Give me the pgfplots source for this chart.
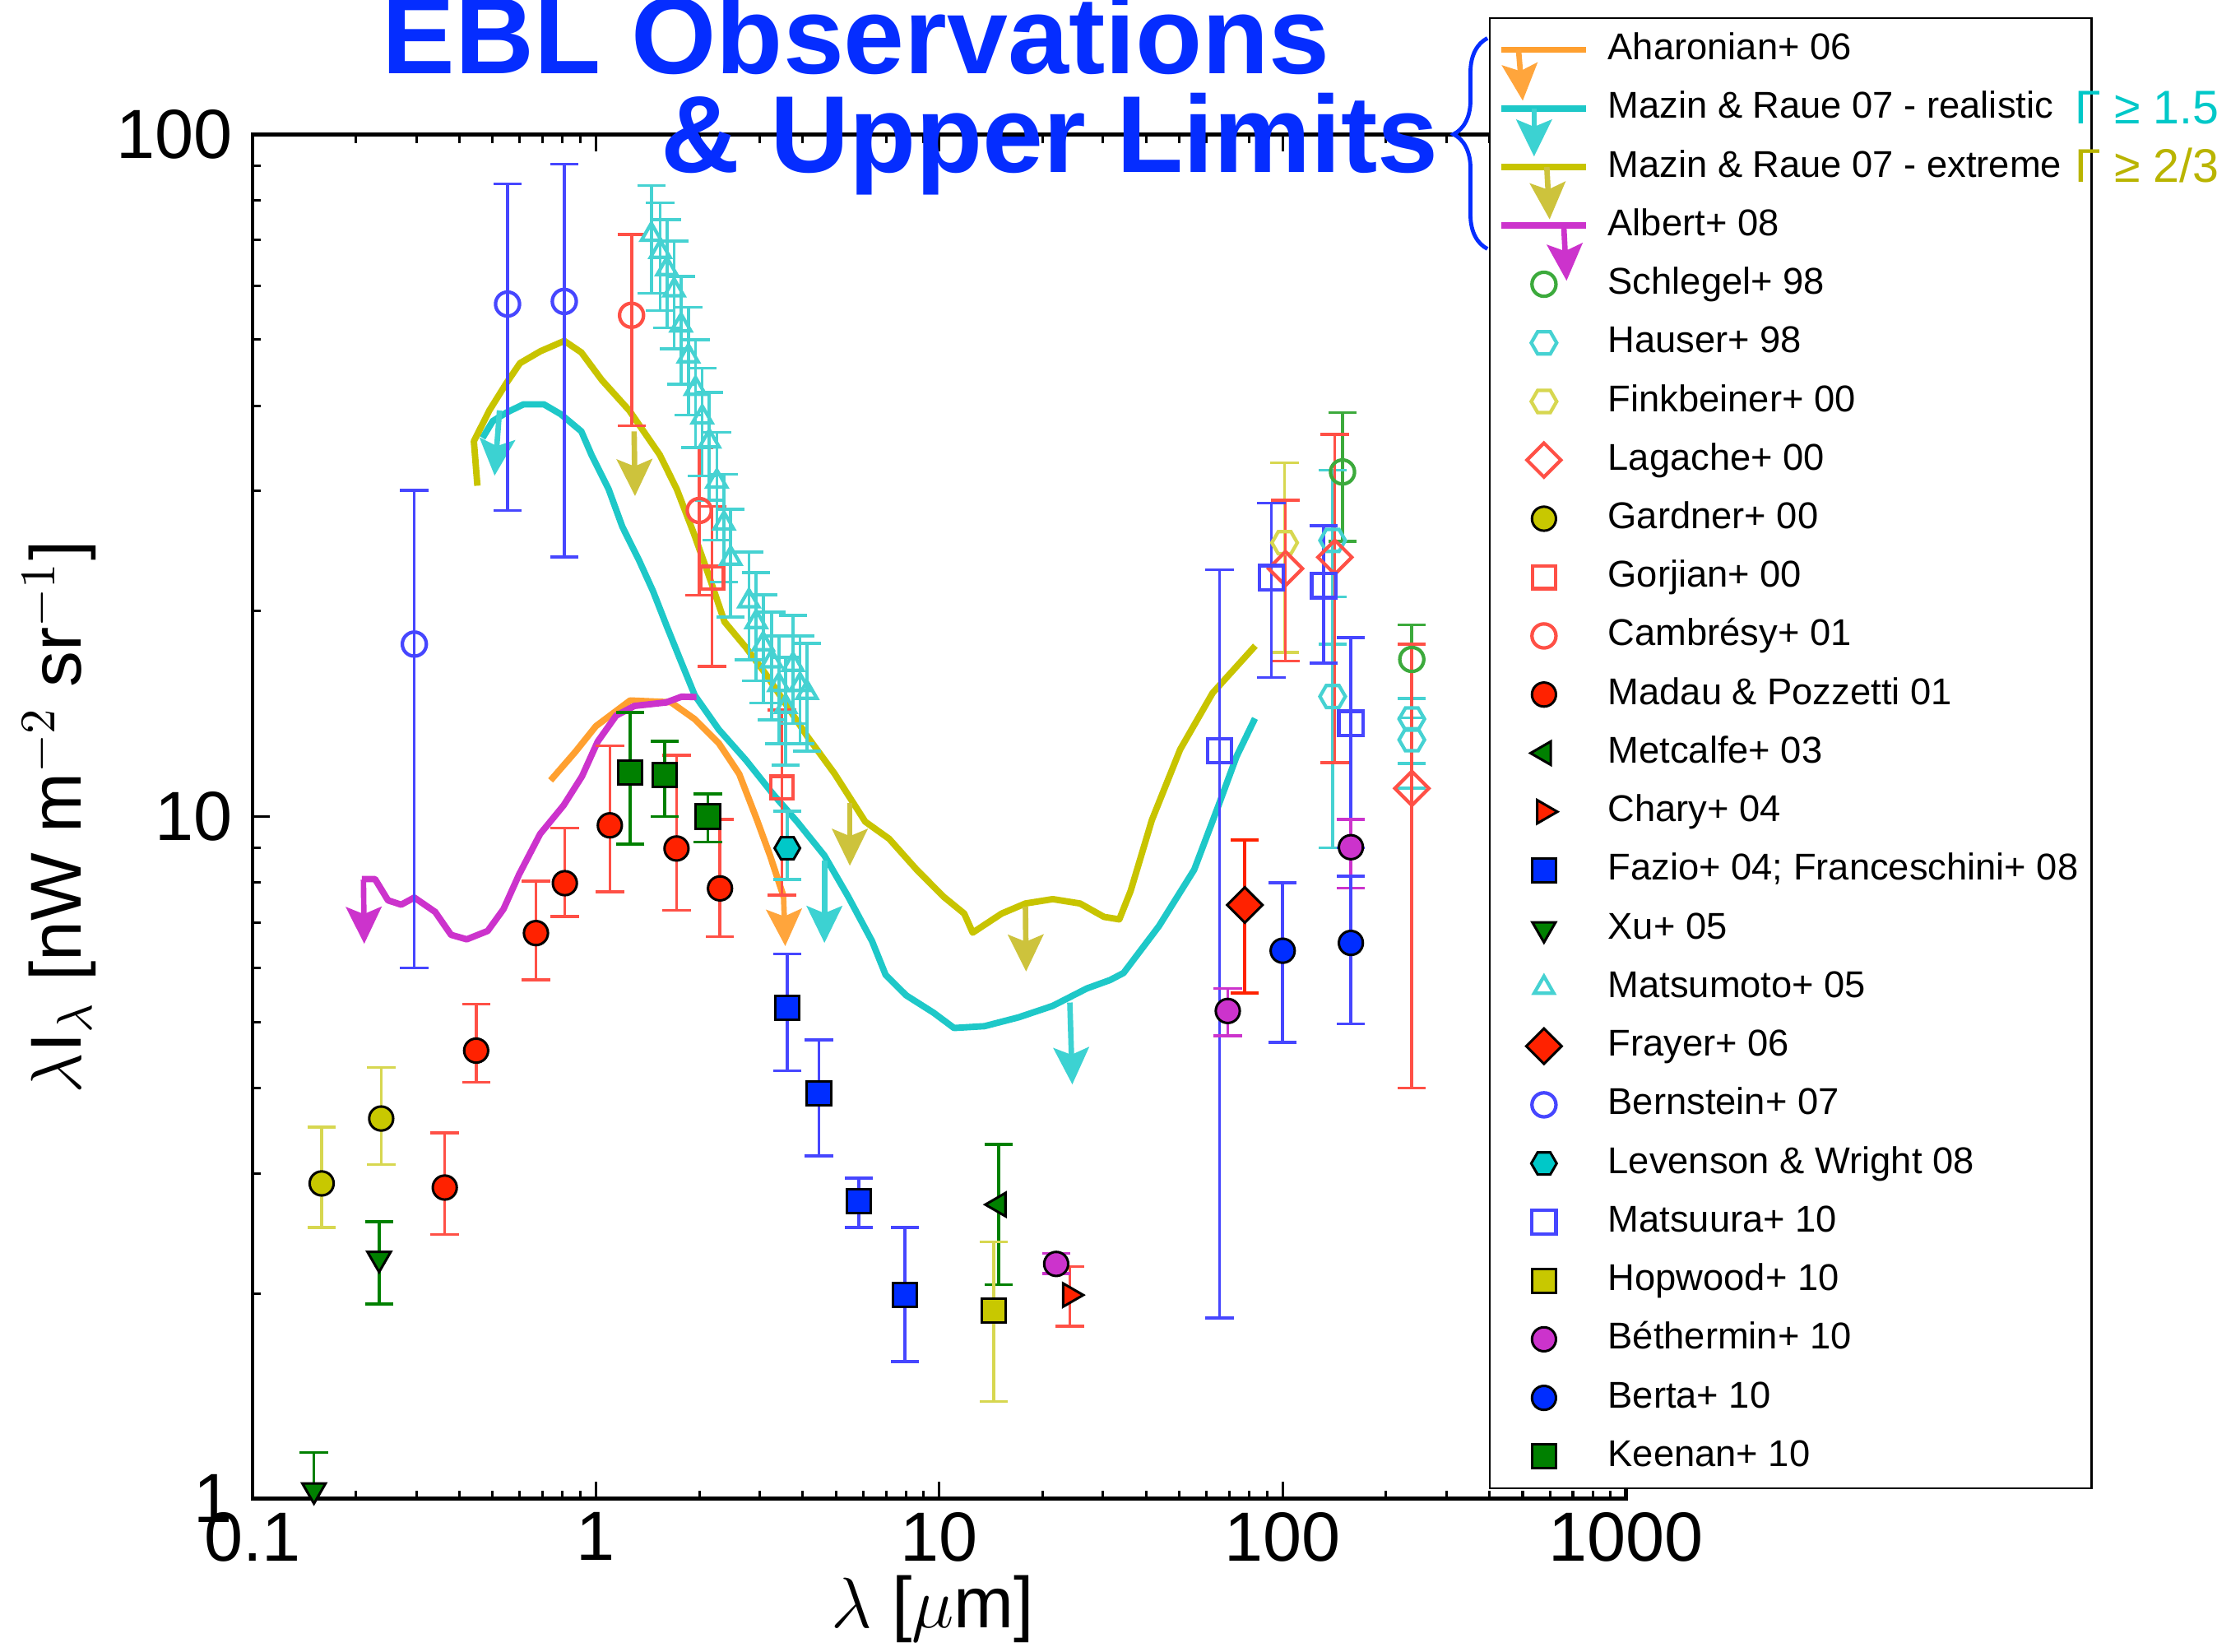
\documentclass[border=0pt]{standalone}
\usepackage{fontspec}
\setmainfont{Liberation Sans}
\usepackage{pgfplots}
\pgfplotsset{compat=1.18}
\usetikzlibrary{arrows.meta,decorations.pathreplacing,plotmarks}

\definecolor{cOrange}{RGB}{255,160,48}
\definecolor{cOrangeA}{RGB}{255,165,60}
\definecolor{cCyan}{RGB}{30,200,200}
\definecolor{cCyanA}{RGB}{60,210,210}
\definecolor{cYel}{RGB}{200,196,0}
\definecolor{cYelA}{RGB}{205,195,60}
\definecolor{cMag}{RGB}{204,51,204}
\definecolor{cRed}{RGB}{255,34,0}
\definecolor{cRedO}{RGB}{255,80,70}
\definecolor{cBlue}{RGB}{0,45,255}
\definecolor{cBlueO}{RGB}{70,70,255}
\definecolor{cGreen}{RGB}{0,128,0}
\definecolor{cGreenO}{RGB}{60,170,60}
\definecolor{cYelM}{RGB}{200,200,0}
\definecolor{cYelO}{RGB}{215,215,80}
\definecolor{cCyanM}{RGB}{0,200,200}
\definecolor{cCyanO}{RGB}{70,210,210}
\definecolor{cTitle}{RGB}{5,45,255}
\definecolor{cGamY}{RGB}{185,180,0}

\pgfdeclareplotmark{hexagon}{%
  \pgfpathmoveto{\pgfqpointpolar{0}{\pgfplotmarksize}}%
  \pgfpathlineto{\pgfqpointpolar{60}{\pgfplotmarksize}}%
  \pgfpathlineto{\pgfqpointpolar{120}{\pgfplotmarksize}}%
  \pgfpathlineto{\pgfqpointpolar{180}{\pgfplotmarksize}}%
  \pgfpathlineto{\pgfqpointpolar{240}{\pgfplotmarksize}}%
  \pgfpathlineto{\pgfqpointpolar{300}{\pgfplotmarksize}}%
  \pgfpathclose\pgfusepathqstroke}
\pgfdeclareplotmark{hexagon*}{%
  \pgfpathmoveto{\pgfqpointpolar{0}{\pgfplotmarksize}}%
  \pgfpathlineto{\pgfqpointpolar{60}{\pgfplotmarksize}}%
  \pgfpathlineto{\pgfqpointpolar{120}{\pgfplotmarksize}}%
  \pgfpathlineto{\pgfqpointpolar{180}{\pgfplotmarksize}}%
  \pgfpathlineto{\pgfqpointpolar{240}{\pgfplotmarksize}}%
  \pgfpathlineto{\pgfqpointpolar{300}{\pgfplotmarksize}}%
  \pgfpathclose\pgfusepathqfillstroke}
\pgfdeclareplotmark{dia}{%
  \pgfpathmoveto{\pgfqpoint{0pt}{\pgfplotmarksize}}%
  \pgfpathlineto{\pgfqpoint{\pgfplotmarksize}{0pt}}%
  \pgfpathlineto{\pgfqpoint{0pt}{-\pgfplotmarksize}}%
  \pgfpathlineto{\pgfqpoint{-\pgfplotmarksize}{0pt}}%
  \pgfpathclose\pgfusepathqstroke}
\pgfdeclareplotmark{dia*}{%
  \pgfpathmoveto{\pgfqpoint{0pt}{\pgfplotmarksize}}%
  \pgfpathlineto{\pgfqpoint{\pgfplotmarksize}{0pt}}%
  \pgfpathlineto{\pgfqpoint{0pt}{-\pgfplotmarksize}}%
  \pgfpathlineto{\pgfqpoint{-\pgfplotmarksize}{0pt}}%
  \pgfpathclose\pgfusepathqfillstroke}

\tikzset{arr/.style={line width=1.1pt, -{Stealth[width=2.5mm,length=2.6mm,inset=0.5mm]}}}

\pgfplotsset{
  ebar/.style={error bars/y dir=both, error bars/y explicit,
    error bars/error bar style={#1, line width=0.6pt},
    error bars/error mark options={rotate=90, #1, mark size=1mm, line width=0.6pt}},
  ebarrel/.style={error bars/y dir=both, error bars/y explicit relative,
    error bars/error bar style={#1, line width=0.6pt},
    error bars/error mark options={rotate=90, #1, mark size=1mm, line width=0.6pt}},
}

\begin{document}
\begin{tikzpicture}
\useasboundingbox (-17.86mm,-10.8mm) rectangle (138.94mm,106.0mm);
\begin{axis}[
  at={(0,0)}, anchor=south west,
  scale only axis, width=97.14mm, height=96.5mm,
  xmode=log, ymode=log,
  xmin=0.1, xmax=1000, ymin=1, ymax=100,
  log ticks with fixed point,
  /pgf/number format/1000 sep={},
  /pgf/number format/assume math mode=true,
  tick label style={font=\fontsize{14}{14}\selectfont},
  xticklabel style={yshift=0.3mm},
  yticklabel style={xshift=-0.2mm},
  major tick length=1.2mm, minor tick length=0.6mm,
  axis line style={line width=0.8pt},
  tick style={line width=0.5pt, black},
  xlabel={$\lambda$ [$\mu$m]},
  ylabel={$\lambda$I$_\lambda$ [nW m$^{-2}$ sr$^{-1}$]},
  label style={font=\fontsize{14.5}{14.5}\selectfont},
  xlabel style={at={(axis description cs:0.495,-0.0808)}, anchor=center},
  ylabel style={at={(axis description cs:-0.1405,0.4995)}, anchor=center},
  legend cell align=left,
  legend style={
    at={(0.9001,1.0860)}, anchor=north west,
    draw=black, fill=white,
    font=\fontsize{7.5}{9}\selectfont,
    inner xsep=0.6mm, inner ysep=0.95mm,
    row sep=1.545mm, column sep=1.3mm,
    nodes={inner sep=0pt, text height=2.0mm, text depth=0.6mm},
  },
]

% ---- upper-limit curves
\addplot[cOrange, line width=1.3pt, no marks, line join=round,
  legend image code/.code={
    \draw[cOrange, line width=1.3pt] (0cm,0cm) -- (0.6cm,0cm);
    \draw[overlay, cOrangeA, arr] (0.12cm,0cm) -- (0.15cm,-0.36cm);
  }] coordinates {
(0.738,11.30) (0.872,12.45) (1.0,13.57) (1.258,14.80) (1.654,14.71) (1.942,13.89)
(2.28,12.81) (2.614,11.55) (2.932,9.95) (3.214,8.77) (3.443,7.90) (3.523,7.63)};
\addlegendentry{\makebox[33.6mm][l]{Aharonian+ 06}}

\addplot[cCyan, line width=1.3pt, no marks, line join=round,
  legend image code/.code={
    \draw[cCyan, line width=1.3pt] (0cm,0cm) -- (0.6cm,0cm);
    \draw[overlay, cCyanA, arr] (0.23cm,0cm) -- (0.23cm,-0.34cm);
  }] coordinates {
(0.4677,35.9) (0.5008,38.0) (0.549,39.1) (0.6151,40.2) (0.7059,40.2) (0.7903,38.9)
(0.907,36.7) (0.971,33.9) (1.089,30.2) (1.194,26.6) (1.338,23.7) (1.467,21.4)
(1.606,19.05) (1.761,16.98) (1.942,15.05) (2.279,13.42) (2.735,12.10) (3.285,10.78)
(3.855,9.83) (4.628,8.77) (5.433,7.63) (6.37,6.57) (6.982,5.86) (8.012,5.47)
(9.618,5.16) (11.04,4.90) (13.54,4.93) (17.03,5.08) (21.4,5.28) (26.9,5.60)
(31.41,5.76) (34.41,5.90) (43.61,6.91) (55.25,8.36) (64.92,10.36) (73.41,12.25) (83.06,13.93)};
\addlegendentry{Mazin \& Raue 07 - realistic}

\addplot[cYel, line width=1.3pt, no marks, line join=round,
  legend image code/.code={
    \draw[cYel, line width=1.3pt] (0cm,0cm) -- (0.6cm,0cm);
    \draw[overlay, cYelA, arr] (0.32cm,0cm) -- (0.34cm,-0.37cm);
  }] coordinates {
(0.4518,30.55) (0.4412,35.5) (0.4896,39.4) (0.549,43.2) (0.6012,46.2) (0.6898,48.1)
(0.8092,49.8) (0.907,47.9) (1.04,43.65) (1.25,39.4) (1.535,33.9) (1.72,30.2)
(1.929,26.0) (2.163,22.1) (2.369,19.3) (2.735,17.7) (3.118,16.2) (3.438,15.05)
(4.127,13.11) (4.955,11.56) (6.087,9.83) (7.143,9.28) (8.577,8.37) (10.3,7.63)
(11.82,7.21) (12.51,6.76) (15.19,7.21) (17.82,7.46) (21.4,7.57) (25.7,7.46)
(30.17,7.13) (33.44,7.07) (36.07,7.78) (41.59,9.88) (50.27,12.54) (62.52,15.18) (83.23,17.80)};
\addlegendentry{Mazin \& Raue 07 - extreme}

\addplot[cMag, line width=1.3pt, no marks, line join=round,
  legend image code/.code={
    \draw[cMag, line width=1.3pt] (0cm,0cm) -- (0.6cm,0cm);
    \draw[overlay, cMag, arr] (0.44cm,0cm) -- (0.46cm,-0.39cm);
  }] coordinates {
(0.2082,8.10) (0.2274,8.10) (0.2481,7.54) (0.2710,7.43) (0.2960,7.61) (0.3404,7.25)
(0.3787,6.71) (0.4206,6.61) (0.4841,6.80) (0.5382,7.32) (0.5977,8.23) (0.6879,9.43)
(0.8056,10.39) (0.9113,11.46) (1.012,12.88) (1.145,14.06) (1.295,14.53) (1.600,14.70)
(1.777,14.99) (1.963,14.97)};
\addlegendentry{Albert+ 08}

% ---- arrows of upper limits
\draw[cOrangeA, arr] (axis cs:3.52,7.63) -- (axis cs:3.56,6.46);
\draw[cCyanA, arr] (axis cs:0.524,39.4) -- (axis cs:0.507,31.6);
\draw[cCyanA, arr] (axis cs:4.63,8.62) -- (axis cs:4.63,6.53);
\draw[cCyanA, arr] (axis cs:24.0,5.34) -- (axis cs:24.4,4.05);
\draw[cYelA, arr] (axis cs:1.292,36.7) -- (axis cs:1.30,29.5);
\draw[cYelA, arr] (axis cs:5.49,10.47) -- (axis cs:5.49,8.47);
\draw[cYelA, arr] (axis cs:17.82,7.38) -- (axis cs:17.9,5.93);
\draw[cMag, arr] (axis cs:0.2104,8.08) -- (axis cs:0.2115,6.51);

% ---- data points
\addplot[only marks, mark=o, mark size=0.85mm, cGreenO, mark options={line width=0.7pt}, ebar=cGreenO]
  table[x=x, y=y, y error plus=ep, y error minus=em] {
x y ep em
149.4 32.0 7.1 6.7
237.7 17.0 2.1 2.1
};
\addlegendentry{Schlegel+ 98}
\addplot[only marks, mark=hexagon, mark size=0.9mm, cCyanO, mark options={line width=0.7pt}, ebar=cCyanO]
  table[x=x, y=y, y error plus=ep, y error minus=em] {
x y ep em
139.8 25.4 6.8 7.5
139.8 15.0 6.0 6.0
237.7 13.9 1.0 2.9
237.7 12.96 1.0 1.0
};
\addlegendentry{Hauser+ 98}
\addplot[only marks, mark=hexagon, mark size=0.9mm, cYelO, mark options={line width=0.7pt}, ebar=cYelO]
  table[x=x, y=y, y error plus=ep, y error minus=em] {
x y ep em
101.3 25.2 7.8 7.8
};
\addlegendentry{Finkbeiner+ 00}
\addplot[only marks, mark=dia, mark size=1.2mm, cRedO, mark options={line width=0.7pt}, ebar=cRedO]
  table[x=x, y=y, y error plus=ep, y error minus=em] {
x y ep em
101.9 23.1 6.0 6.2
141.9 24.0 12.3 12.0
237.7 11.0 6.9 7.0
};
\addlegendentry{Lagache+ 00}
\addplot[only marks, mark=*, mark size=0.85mm, cYelM, mark options={draw=black, fill=cYelM, line width=0.5pt}, ebar=cYelO]
  table[x=x, y=y, y error plus=ep, y error minus=em] {
x y ep em
0.159 2.90 0.61 0.40
0.237 3.61 0.68 0.52
};
\addlegendentry{Gardner+ 00}
\addplot[only marks, mark=square, mark size=0.8mm, cRedO, mark options={line width=0.7pt}, ebar=cRedO]
  table[x=x, y=y, y error plus=ep, y error minus=em] {
x y ep em
2.18 22.4 6.1 5.8
3.48 11.03 3.3 3.36
};
\addlegendentry{Gorjian+ 00}
\addplot[only marks, mark=o, mark size=0.85mm, cRedO, mark options={line width=0.7pt}, ebar=cRedO]
  table[x=x, y=y, y error plus=ep, y error minus=em] {
x y ep em
1.27 54.3 17.0 16.9
2.0 28.1 6.6 7.0
};
\addlegendentry{Cambrésy+ 01}
\addplot[only marks, mark=*, mark size=0.85mm, cRed, mark options={draw=black, fill=cRed, line width=0.5pt}, ebar=cRedO]
  table[x=x, y=y, y error plus=ep, y error minus=em] {
x y ep em
0.363 2.86 0.58 0.42
0.448 4.54 0.77 0.46
0.669 6.75 1.29 0.98
0.812 7.99 1.63 0.85
1.098 9.71 2.99 1.95
1.717 8.98 3.32 1.69
2.298 7.85 2.05 1.18
};
\addlegendentry{Madau \& Pozzetti 01}
\addplot[only marks, mark=triangle*, mark size=0.95mm, cGreen, mark options={rotate=90, draw=black, fill=cGreen, line width=0.5pt}, ebar=cGreen]
  table[x=x, y=y, y error plus=ep, y error minus=em] {
x y ep em
14.9 2.70 0.61 0.64
};
\addlegendentry{Metcalfe+ 03}
\addplot[only marks, mark=triangle*, mark size=0.95mm, cRed, mark options={rotate=-90, draw=black, fill=cRed, line width=0.5pt}, ebar=cRedO]
  table[x=x, y=y, y error plus=ep, y error minus=em] {
x y ep em
24.0 1.99 0.20 0.20
};
\addlegendentry{Chary+ 04}
\addplot[only marks, mark=square*, mark size=0.85mm, cBlue, mark options={draw=black, fill=cBlue, line width=0.5pt}, ebar=cBlueO]
  table[x=x, y=y, y error plus=ep, y error minus=em] {
x y ep em
3.61 5.25 1.04 1.01
4.46 3.93 0.78 0.75
5.84 2.73 0.22 0.23
7.94 1.99 0.51 0.40
};
\addlegendentry{Fazio+ 04; Franceschini+ 08}
\addplot[only marks, mark=triangle*, mark size=0.95mm, cGreen, mark options={rotate=180, draw=black, fill=cGreen, line width=0.5pt}, ebar=cGreen]
  table[x=x, y=y, y error plus=ep, y error minus=em] {
x y ep em
0.151 1.03 0.14 0.13
0.2337 2.25 0.30 0.32
};
\addlegendentry{Xu+ 05}
\addplot[only marks, mark=triangle, mark size=0.8mm, cCyanO, mark options={line width=0.7pt}, ebarrel=cCyanO]
  table[x=x, y=y, y error=e] {
x y e
1.45 71.3 0.18
1.54 67.3 0.18
1.61 63.5 0.18
1.69 59.1 0.18
1.77 52.5 0.18
1.86 47.3 0.18
1.95 42.4 0.18
2.04 38.5 0.18
2.14 35.5 0.18
2.25 31.0 0.18
2.36 26.9 0.18
2.47 23.9 0.18
2.79 20.7 0.18
2.93 19.3 0.18
3.07 17.9 0.18
3.25 16.9 0.18
3.41 15.6 0.18
3.57 14.5 0.18
3.75 16.7 0.18
3.93 15.6 0.18
4.12 15.2 0.18
};
\addlegendentry{Matsumoto+ 05}
\addplot[only marks, mark=dia*, mark size=1.25mm, cRed, mark options={draw=black, fill=cRed, line width=0.5pt}, ebar=cRed]
  table[x=x, y=y, y error plus=ep, y error minus=em] {
x y ep em
77.6 7.42 1.82 1.91
};
\addlegendentry{Frayer+ 06}
\addplot[only marks, mark=o, mark size=0.85mm, cBlueO, mark options={line width=0.7pt}, ebar=cBlueO]
  table[x=x, y=y, y error plus=ep, y error minus=em] {
x y ep em
0.296 17.9 12.2 11.9
0.553 56.4 28.2 28.3
0.809 56.9 33.5 32.9
};
\addlegendentry{Bernstein+ 07}
\addplot[only marks, mark=hexagon*, mark size=0.9mm, cCyanM, mark options={draw=black, fill=cCyanM, line width=0.5pt}, ebar=cCyanO]
  table[x=x, y=y, y error plus=ep, y error minus=em] {
x y ep em
3.61 8.99 1.2 0.9
};
\addlegendentry{Levenson \& Wright 08}
\addplot[only marks, mark=square, mark size=0.85mm, cBlueO, mark options={line width=0.7pt}, ebar=cBlueO]
  table[x=x, y=y, y error plus=ep, y error minus=em] {
x y ep em
65.5 12.5 10.5 10.66
92.8 22.4 6.4 6.4
131.6 21.8 4.9 5.0
158 13.7 4.6 4.7
};
\addlegendentry{Matsuura+ 10}
\addplot[only marks, mark=square*, mark size=0.85mm, cYelM, mark options={draw=black, fill=cYelM, line width=0.5pt}, ebar=cYelO]
  table[x=x, y=y, y error plus=ep, y error minus=em] {
x y ep em
14.4 1.89 0.49 0.50
};
\addlegendentry{Hopwood+ 10}
\addplot[only marks, mark=*, mark size=0.85mm, cMag, mark options={draw=black, fill=cMag, line width=0.5pt}, ebar=cMag]
  table[x=x, y=y, y error plus=ep, y error minus=em] {
x y ep em
21.9 2.21 0.08 0.07
69.2 5.19 0.41 0.42
158 9.02 0.88 1.16
};
\addlegendentry{Béthermin+ 10}
\addplot[only marks, mark=*, mark size=0.85mm, cBlue, mark options={draw=black, fill=cBlue, line width=0.5pt}, ebar=cBlueO]
  table[x=x, y=y, y error plus=ep, y error minus=em] {
x y ep em
100 6.36 1.64 1.69
158 6.53 1.65 1.56
};
\addlegendentry{Berta+ 10}
\addplot[only marks, mark=square*, mark size=0.85mm, cGreen, mark options={draw=black, fill=cGreen, line width=0.5pt}, ebar=cGreen]
  table[x=x, y=y, y error plus=ep, y error minus=em] {
x y ep em
1.259 11.6 2.6 2.49
1.587 11.5 1.4 1.5
2.118 10.0 0.8 0.82
};
\addlegendentry{Keenan+ 10}
\end{axis}

\node[anchor=base, text=cTitle, font=\bfseries\fontsize{22}{22}\selectfont, inner sep=0pt] at (42.7mm,100.8mm) {EBL Observations};
\node[anchor=base, text=cTitle, font=\bfseries\fontsize{22}{22}\selectfont, inner sep=0pt] at (56.4mm,93.8mm) {\& Upper Limits};
\draw[cTitle, line width=0.8pt, decorate, decoration={brace, amplitude=2.4mm, aspect=0.544}] (87.34mm,88.4mm) -- (87.34mm,103.3mm);
\node[anchor=west, text=cCyanM, font=\fontsize{9.5}{9.5}\selectfont, inner sep=0pt] at (128.84mm,98.4mm) {Γ ≥ 1.5};
\node[anchor=west, text=cGamY, font=\fontsize{9.5}{9.5}\selectfont, inner sep=0pt] at (128.84mm,94.3mm) {Γ ≥ 2/3};
\end{tikzpicture}
\end{document}
